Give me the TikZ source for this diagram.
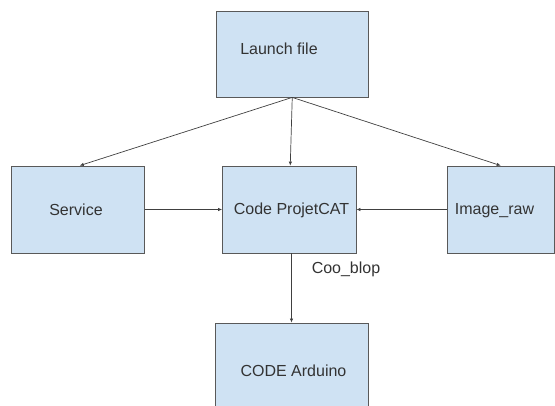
\documentclass[tikz,border=0pt]{standalone}
\usepackage{fontspec}
\setmainfont{Liberation Sans}
\usetikzlibrary{arrows.meta}
\definecolor{boxfill}{HTML}{CFE2F3}
\definecolor{boxline}{HTML}{595959}
\definecolor{txt}{HTML}{333333}
\definecolor{arr}{HTML}{404040}
\tikzset{
  box/.style={draw=boxline, fill=boxfill, line width=0.8pt, inner sep=0pt},
  lbl/.style={text=txt, font=\fontsize{16}{19}\selectfont, inner sep=0pt},
  conn/.style={draw=arr, line width=0.7pt, -{Latex[length=4pt,width=3.5pt]}}
}
\begin{document}
\begin{tikzpicture}[x=1pt,y=-1pt]
\useasboundingbox (0,0) rectangle (555,405);
\clip (0,0) rectangle (555,405);
\node[box, minimum width=151.5pt, minimum height=85.5pt] (launch) at (292.25,54.25) {};
\node[box, minimum width=133.5pt, minimum height=87pt] (service) at (77.75,209.5) {};
\node[box, minimum width=133.5pt, minimum height=87pt] (code) at (289.25,209.5) {};
\node[box, minimum width=107.5pt, minimum height=87pt] (image) at (500.75,209.5) {};
\node[box, minimum width=153pt, minimum height=92pt] (arduino) at (291.5,369) {};
\node[lbl] (tlaunch) at (279,49) {Launch file};
\node[lbl] (tservice) at (76,210) {Service};
\node[lbl] (tcode) at (291.5,210) {Code ProjetCAT};
\node[lbl] (timage) at (494.5,211) {Image\_raw};
\node[lbl] (tarduino) at (293.5,371) {CODE Arduino};
\node[lbl] (coo) at (346,269.5) {Coo\_blop};
\draw[conn] (launch.south) -- ([xshift=2pt]service.north);
\draw[conn] (launch.south) -- ([xshift=1pt]code.north);
\draw[conn] (launch.south) -- (image.north);
\draw[conn] (service.east) -- (code.west);
\draw[conn] (image.west) -- (code.east);
\draw[conn] (code.south -| arduino.north) -- (arduino.north);
\end{tikzpicture}
\end{document}
